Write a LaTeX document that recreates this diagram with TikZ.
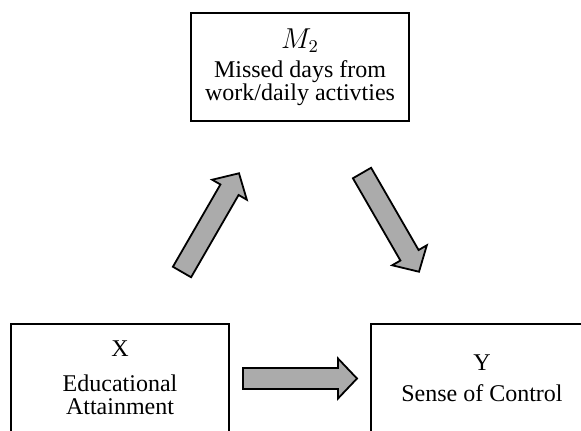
\documentclass[tikz,border=0pt]{standalone}
\usepackage{fontspec}
\setmainfont{Liberation Serif}
\begin{document}
\begin{tikzpicture}[x=0.5pt,y=-0.5pt,
  box/.style={draw,line width=1pt,inner sep=0pt,align=center,
    minimum width=109pt,minimum height=54pt,
    font=\fontsize{12}{11.5}\selectfont},
  blockarrow/.style={draw,line width=0.9pt,fill=arrowgray,line join=miter}]
\definecolor{arrowgray}{HTML}{ABABAB}
\path[use as bounding box,clip] (0,0) rectangle (581,430);
% boxes
\node[box] (M) at (300,67) {{\fontsize{13.5}{13.5}\selectfont$M_2$}\\[3pt]Missed days from\\work/daily activties};
\node[box] (X) at (120,378) {X\\[6pt]Educational\\Attainment};
\node[box,minimum width=111pt] (Y) at (482,378) {Y\\[4pt]Sense of Control};
% arrow tails
\coordinate (a1) at (182,272);
\coordinate (a2) at (362,173);
\coordinate (a3) at (243,378.5);
\foreach \c/\ang in {a1/60,a2/-60,a3/0}{
  \begin{scope}[shift={(\c)},rotate=\ang]
    \draw[blockarrow] (0,-10.5) -- (95,-10.5) -- (95,-20) -- (114,0)
      -- (95,20) -- (95,10.5) -- (0,10.5) -- cycle;
  \end{scope}
}
\end{tikzpicture}
\end{document}
